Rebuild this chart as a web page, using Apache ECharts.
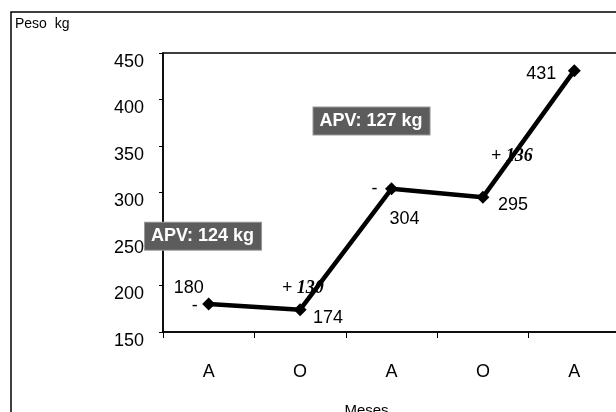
<!DOCTYPE html>
<html>
<head>
<meta charset="utf-8">
<script src="https://cdn.jsdelivr.net/npm/echarts@6/dist/echarts.min.js"></script>
<style>
  html, body { margin: 0; padding: 0; background: #fff; }
  #chart { width: 616px; height: 412px; }
</style>
</head>
<body>
<div id="chart"></div>
<script>
// Weight of steers over two years on natural pasture
const months = ['A', 'O', 'A', 'O', 'A'];
const weights = [180, 174, 304, 295, 431];
const yTicks = [150, 200, 250, 300, 350, 400, 450];
// Average weight gain boxes: text, category index, value anchor
const apvTexts = ['APV: 124 kg', 'APV: 127 kg'];
const apvAnchors = [[0, 253], [2, 377]];

// label offsets (styling only) for each value label
const labelOffsets = [[-20, -16], [28, 8], [13, 30], [30, 8], [-33, 3]];

const FONT = 'Liberation Sans, Arial, sans-serif';

const chart = echarts.init(document.getElementById('chart'), null, { renderer: 'canvas' });

const seriesData = weights.map((v, i) => ({
  value: v,
  label: { offset: labelOffsets[i] }
}));

chart.setOption({
  animation: false,
  backgroundColor: '#fff',
  grid: { left: 163, top: 53, width: 457, height: 279, outerBoundsMode: 'none', containLabel: false,
    show: true, borderColor: '#000', borderWidth: 1.5, backgroundColor: 'transparent' },
  xAxis: {
    type: 'category',
    data: months,
    boundaryGap: true,
    name: 'Meses',
    nameLocation: 'middle',
    nameGap: 71,
    nameTextStyle: { fontFamily: FONT, fontSize: 15, color: '#000', padding: [0, 50, 0, 0] },
    axisLine: { lineStyle: { color: '#000', width: 1.5 } },
    axisTick: { show: true, length: 6, lineStyle: { color: '#000' } },
    axisLabel: { margin: 31, fontFamily: FONT, fontSize: 18, color: '#000' },
    splitLine: { show: false }
  },
  yAxis: {
    type: 'value',
    min: 150, max: 450, interval: 50,
    axisLine: { show: true, lineStyle: { color: '#000', width: 1.5 } },
    axisTick: { show: true, length: 4, lineStyle: { color: '#000' } },
    axisLabel: { margin: 19, fontFamily: FONT, fontSize: 18, color: '#000', verticalAlign: 'top',
      formatter: v => yTicks.includes(v) ? String(v) : '' },
    splitLine: { show: false }
  },
  series: [{
    type: 'line',
    data: seriesData,
    z: 5,
    symbol: 'diamond',
    symbolSize: 13,
    itemStyle: { color: '#000' },
    lineStyle: { color: '#000', width: 4.5 },
    label: {
      show: true,
      position: ['50%', '50%'],
      align: 'center',
      verticalAlign: 'middle',
      fontFamily: FONT,
      fontSize: 18,
      color: '#000'
    }
  }]
});

// Annotations placed from data coordinates
function px(i, v) { return chart.convertToPixel({ seriesIndex: 0 }, [i, v]); }

const graphics = [];
// outer frame
graphics.push({ type: 'rect', shape: { x: 11, y: 12, width: 700, height: 500 },
  style: { fill: 'none', stroke: '#000', lineWidth: 1.5 }, z: 0, silent: true });
graphics.push({ type: 'text', x: 15, y: 17, z: 1,
  style: { text: 'Peso  kg', fontFamily: FONT, fontSize: 14, fill: '#000' } });

// weight gain between consecutive visits (drawn beneath the line)
const gains = [[1, 2], [3, 4]];
const gainOffsets = [[-18, -21], [8, -41]];
gains.forEach(([a, b], k) => {
  const p = px(a, weights[a]);
  graphics.push({ type: 'text', x: p[0] + gainOffsets[k][0], y: p[1] + gainOffsets[k][1], z: 1,
    style: { text: '+ ' + (weights[b] - weights[a]), fontFamily: 'Liberation Serif, Times New Roman, serif',
      fontStyle: 'italic', fontWeight: 'bold', fontSize: 18, fill: '#000', textVerticalAlign: 'middle' } });
});
// loss markers
const losses = [0, 2];
const lossOffsets = [[-14, 2], [-17, 0]];
losses.forEach((i, k) => {
  const p = px(i, weights[i]);
  graphics.push({ type: 'text', x: p[0] + lossOffsets[k][0], y: p[1] + lossOffsets[k][1], z: 1,
    style: { text: '-', fontFamily: FONT, fontSize: 18, fill: '#000', textAlign: 'center', textVerticalAlign: 'middle' } });
});
// APV boxes
apvTexts.forEach((t, k) => {
  const p = px(apvAnchors[k][0], apvAnchors[k][1]);
  const x = k === 0 ? 145 : p[0] - 78;
  graphics.push({ type: 'text', x: x, y: p[1], z: 6,
    style: { text: t, fontFamily: FONT, fontSize: 18, fontWeight: 'bold', fill: '#fff',
      backgroundColor: '#5c5c5c', padding: [5, 7, 4, 6], textVerticalAlign: 'middle',
      borderColor: '#999', borderWidth: 1 } });
});

chart.setOption({ graphic: graphics });
</script>
</body>
</html>
